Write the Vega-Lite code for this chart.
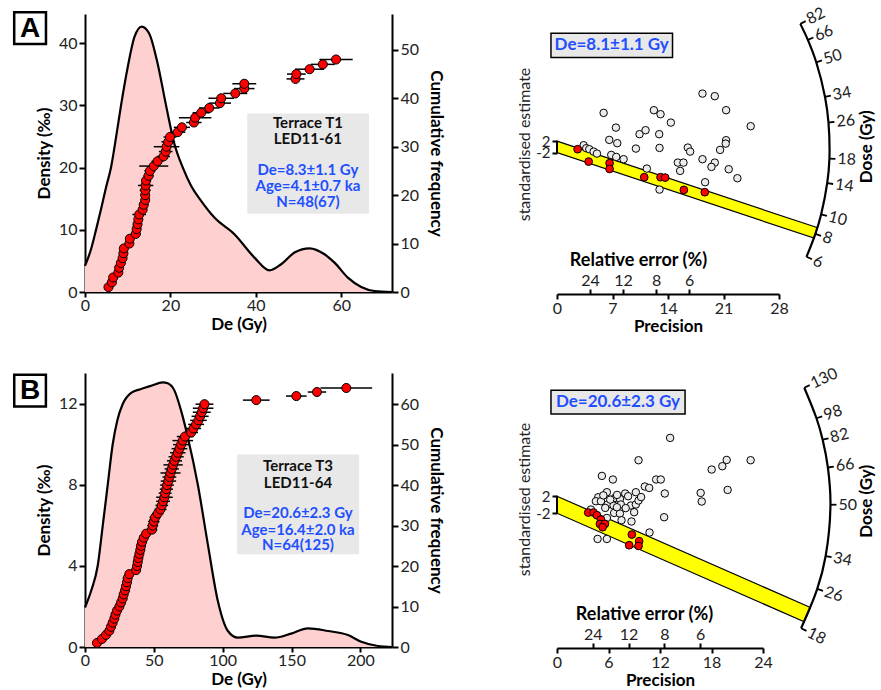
{
"$schema": "https://vega.github.io/schema/vega-lite/v6.json",
"padding": {"left": 12, "top": 4, "right": 4, "bottom": 1},
"config": {
  "font": "Lato",
  "view": {"stroke": null},
  "axis": {"grid": false, "domainColor": "#000", "domainWidth": 2, "tickColor": "#000", "tickWidth": 2, "tickSize": 6, "labelFontSize": 16, "labelColor": "#222", "labelPadding": 2, "labelFlush": false, "titleFontSize": 17, "titleFontWeight": "bold", "titleColor": "#000", "labelFont": "Lato", "titleFont": "Lato"},
  "axisX": {"tickSize": 5, "labelPadding": 0, "titlePadding": 3}
},
"columns": 2,
"align": "each",
"bounds": "flush",
"spacing": {"row": 79, "column": 165},
"concat": [
{
 "width": 307, "height": 278,
 "resolve": {"scale": {"y": "independent"}},
 "layer": [
  {"layer": [
   {"data": {"name": "densA", "values": [{"De":0,"density":4.19},{"De":1.41,"density":6.87},{"De":2.58,"density":9.99},{"De":3.75,"density":13.32},{"De":4.92,"density":16.81},{"De":6.09,"density":20.03},{"De":7.27,"density":24.86},{"De":8.44,"density":30.01},{"De":10.0,"density":36.13},{"De":11.56,"density":40.97},{"De":13.28,"density":42.68},{"De":15.08,"density":41.5},{"De":17.03,"density":36.67},{"De":18.98,"density":30.01},{"De":20.94,"density":23.79},{"De":22.89,"density":20.03},{"De":24.84,"density":17.07},{"De":27.19,"density":14.66},{"De":30.31,"density":11.97},{"De":35.0,"density":9.29},{"De":39.69,"density":5.53},{"De":43.2,"density":3.49},{"De":45.94,"density":4.46},{"De":49.06,"density":6.34},{"De":52.58,"density":7.03},{"De":56.09,"density":6.07},{"De":58.44,"density":4.72},{"De":61.56,"density":2.31},{"De":64.69,"density":0.81},{"De":67.81,"density":0.16},{"De":71.88,"density":0}]},
    "mark": {"type": "area", "fill": "#FFD0D0", "interpolate": "monotone"},
    "encoding": {
     "x": {"field": "De", "type": "quantitative", "title": "De (Gy)", "scale": {"domain": [0, 71.9], "nice": false}, "axis": {"values": [0, 20, 40, 60], "title": "De (Gy)"}},
     "y": {"field": "density", "type": "quantitative", "scale": {"domain": [0, 44.7], "nice": false}, "axis": {"values": [0, 10, 20, 30, 40], "title": "Density (‰)", "titlePadding": 5}}}},
   {"data": {"name": "densA"},
    "mark": {"type": "line", "stroke": "#000", "strokeWidth": 2.2, "interpolate": "monotone"},
    "encoding": {"x": {"field": "De", "type": "quantitative", "title": "De (Gy)"}, "y": {"field": "density", "type": "quantitative"}}},
   {"data": {"values": [{}]}, "mark": {"type": "rect", "fill": "#E8E8E8"},
    "encoding": {"x": {"datum": 38.0, "type": "quantitative"}, "x2": {"datum": 66.5}, "y": {"datum": 28.7, "type": "quantitative"}, "y2": {"datum": 12.6}}},
   {"data": {"values": [{"t": "Terrace T1", "y": 27.2}, {"t": "LED11-61", "y": 24.6}]},
    "mark": {"type": "text", "fontSize": 15, "fontWeight": "bold", "color": "#111"},
    "encoding": {"x": {"datum": 52.2, "type": "quantitative"}, "y": {"field": "y", "type": "quantitative"}, "text": {"field": "t"}}},
   {"data": {"values": [{"t": "De=8.3±1.1 Gy", "y": 19.65}, {"t": "Age=4.1±0.7 ka", "y": 17.07}, {"t": "N=48(67)", "y": 14.49}]},
    "mark": {"type": "text", "fontSize": 15, "fontWeight": "bold", "color": "#1F4FFF"},
    "encoding": {"x": {"datum": 52.2, "type": "quantitative"}, "y": {"field": "y", "type": "quantitative"}, "text": {"field": "t"}}},
   {"data": {"values": [{}]}, "mark": {"type": "rect", "fill": "#FFFFFF", "stroke": "#000", "strokeWidth": 2.5},
    "encoding": {"x": {"datum": -16.58, "type": "quantitative"}, "x2": {"datum": -9.14}, "y": {"datum": 44.98, "type": "quantitative"}, "y2": {"datum": 39.89}}},
   {"data": {"values": [{"t": "A"}]}, "mark": {"type": "text", "font": "Liberation Sans", "fontSize": 28, "fontWeight": "bold", "color": "#000"},
    "encoding": {"x": {"datum": -12.86, "type": "quantitative"}, "y": {"datum": 42.3, "type": "quantitative"}, "text": {"field": "t"}}}
  ]},
  {"layer": [
   {"data": {"name": "cumA", "values": [{"cum":1,"De":5.5,"err":0.5},{"cum":2,"De":6.3,"err":0.5},{"cum":3,"De":6.6,"err":0.5},{"cum":4,"De":7.8,"err":0.6},{"cum":5,"De":8.0,"err":0.6},{"cum":6,"De":8.4,"err":0.6},{"cum":7,"De":8.8,"err":0.6},{"cum":8,"De":9.0,"err":0.7},{"cum":9,"De":9.1,"err":0.7},{"cum":10,"De":10.4,"err":0.8},{"cum":11,"De":10.5,"err":0.8},{"cum":12,"De":11.9,"err":1.2},{"cum":13,"De":12.1,"err":0.9},{"cum":14,"De":12.3,"err":0.9},{"cum":15,"De":12.5,"err":1.0},{"cum":16,"De":12.7,"err":1.6},{"cum":17,"De":13.5,"err":1.0},{"cum":18,"De":13.75,"err":1.1},{"cum":19,"De":14.1,"err":1.0},{"cum":20,"De":14.1,"err":1.1},{"cum":21,"De":14.1,"err":1.3},{"cum":22,"De":14.2,"err":1.8},{"cum":23,"De":14.3,"err":1.2},{"cum":24,"De":14.9,"err":1.2},{"cum":25,"De":15.2,"err":1.3},{"cum":26,"De":16.1,"err":3.4},{"cum":27,"De":17.0,"err":1.4},{"cum":28,"De":18.4,"err":1.5},{"cum":29,"De":18.9,"err":1.6},{"cum":30,"De":19.1,"err":3.0},{"cum":31,"De":19.5,"err":1.6},{"cum":32,"De":19.9,"err":1.5},{"cum":33,"De":21.7,"err":1.8},{"cum":34,"De":22.7,"err":1.9},{"cum":35,"De":25.5,"err":1.8},{"cum":36,"De":25.8,"err":3.8},{"cum":37,"De":27.2,"err":2.0},{"cum":38,"De":29.1,"err":2.4},{"cum":39,"De":31.6,"err":2.6},{"cum":40,"De":31.9,"err":3.0},{"cum":41,"De":35.2,"err":2.8},{"cum":42,"De":37.3,"err":2.4},{"cum":43,"De":37.3,"err":2.8},{"cum":44,"De":49.3,"err":2.1},{"cum":45,"De":49.5,"err":2.2},{"cum":46,"De":52.6,"err":3.4},{"cum":47,"De":55.7,"err":2.8},{"cum":48,"De":58.8,"err":3.9}]},
    "mark": {"type": "errorbar", "color": "#000", "thickness": 1.5},
    "encoding": {"x": {"field": "De", "type": "quantitative", "title": "De (Gy)"}, "xError": {"field": "err"},
     "y": {"field": "cum", "type": "quantitative", "title": "Cumulative frequency", "scale": {"domain": [0, 57.4], "nice": false}, "axis": {"orient": "right", "values": [0, 10, 20, 30, 40, 50], "title": "Cumulative frequency", "titlePadding": 8}}}},
   {"data": {"name": "cumA"},
    "mark": {"type": "point", "filled": true, "fill": "#FF0000", "stroke": "#000", "strokeWidth": 1, "size": 82, "opacity": 1},
    "encoding": {"x": {"field": "De", "type": "quantitative", "title": "De (Gy)"},
     "y": {"field": "cum", "type": "quantitative", "title": "Cumulative frequency", "scale": {"domain": [0, 57.4], "nice": false}, "axis": {"orient": "right", "values": [0, 10, 20, 30, 40, 50], "title": "Cumulative frequency", "titlePadding": 8}}}}
  ]}
 ]
},
{
 "width": 222, "height": 280,
 "resolve": {"axis": {"x": "independent"}},
 "layer": [
  {"layer": [
   {"data": {"values": [{"p": 0, "hi": 2, "lo": -2}, {"p": 32.41, "hi": -27.75, "lo": -31.75}, {"p": 32.83, "hi": -28.14, "lo": -28.14}]},
    "mark": {"type": "area", "fill": "#FFFF00", "stroke": "#000", "strokeWidth": 1.2},
    "encoding": {
     "x": {"field": "p", "type": "quantitative", "title": "Precision", "scale": {"domain": [0, 28], "nice": false}, "axis": {"values": [0, 7, 14, 21, 28], "title": "Precision", "labelPadding": 1, "titlePadding": 2}},
     "y": {"field": "hi", "type": "quantitative", "title": "standardised estimate", "scale": {"domain": [-51.25, 46.3], "nice": false}, "axis": {"values": [-2, 2], "domain": false, "tickSize": 5, "labelFontSize": 15, "labelOverlap": false, "labelExpr": "datum.value > 0 ? '2' : '-2'", "title": "standardised estimate", "titleFontWeight": "normal", "titleFontSize": 16, "titleColor": "#222", "titleY": 130, "titlePadding": 3}},
     "y2": {"field": "lo"}}},
   {"data": {"values": [{"p":5.88,"z":11.85},{"p":7.43,"z":6.72},{"p":6.59,"z":2.44},{"p":7.6,"z":1.29},{"p":3.36,"z":0.59},{"p":3.69,"z":-0.45},{"p":4.07,"z":-0.8},{"p":4.62,"z":-1.64},{"p":5.04,"z":-2.33},{"p":6.84,"z":-2.79},{"p":7.47,"z":-3.48},{"p":8.4,"z":-4.29},{"p":9.95,"z":-0.59},{"p":10.41,"z":4.43},{"p":11.17,"z":5.82},{"p":12.22,"z":12.79},{"p":13.06,"z":11.39},{"p":14.36,"z":8.47},{"p":12.89,"z":4.43},{"p":12.93,"z":-0.35},{"p":11.33,"z":-7.56},{"p":12.93,"z":-14.88},{"p":15.24,"z":-5.47},{"p":15.95,"z":-5.47},{"p":15.53,"z":-8.36},{"p":16.5,"z":-0.24},{"p":16.79,"z":-1.64},{"p":18.35,"z":18.57},{"p":19.9,"z":17.67},{"p":21.33,"z":12.79},{"p":24.43,"z":7.21},{"p":21.33,"z":2.33},{"p":21.28,"z":1.15},{"p":20.57,"z":-1.05},{"p":18.35,"z":-4.29},{"p":19.9,"z":-5.47},{"p":19.48,"z":-6.97},{"p":21.66,"z":-7.77},{"p":22.75,"z":-10.91},{"p":18.68,"z":-12.3}]},
    "mark": {"type": "point", "filled": true, "fill": "#EBEBEB", "stroke": "#000", "strokeWidth": 1, "size": 56, "opacity": 1},
    "encoding": {"x": {"field": "p", "type": "quantitative"}, "y": {"field": "z", "type": "quantitative"}}},
   {"data": {"values": [{"p":2.6,"z":-0.8},{"p":3.99,"z":-5.12},{"p":6.63,"z":-5.68},{"p":6.63,"z":-7.67},{"p":11.0,"z":-10.56},{"p":13.06,"z":-10.56},{"p":13.64,"z":-10.7},{"p":16.0,"z":-14.98},{"p":18.64,"z":-15.78}]},
    "mark": {"type": "point", "filled": true, "fill": "#FF0000", "stroke": "#000", "strokeWidth": 1, "size": 60, "opacity": 1},
    "encoding": {"x": {"field": "p", "type": "quantitative"}, "y": {"field": "z", "type": "quantitative"}}},
   {"data": {"name": "arcA", "values": [{"D":82,"X":30.69,"Z":42.86},{"D":66,"X":31.64,"Z":37.28},{"D":50,"X":32.7,"Z":29.48},{"D":34,"X":33.8,"Z":17.46},{"D":26,"X":34.24,"Z":8.5},{"D":18,"X":34.36,"Z":-4.11},{"D":14,"X":34.08,"Z":-12.65},{"D":10,"X":33.31,"Z":-23.55},{"D":8,"X":32.59,"Z":-30.31},{"D":6,"X":31.47,"Z":-38.29}]},
    "mark": {"type": "line", "stroke": "#000", "strokeWidth": 2.2, "interpolate": "catmull-rom"},
    "encoding": {"x": {"field": "X", "type": "quantitative"}, "y": {"field": "Z", "type": "quantitative"}, "order": {"field": "D", "type": "quantitative", "sort": "descending"}}},
   {"data": {"name": "arcA"},
    "transform": [{"calculate": "atan2(-datum.Z*2.87, datum.X*7.94)*180/PI", "as": "ang"}],
    "mark": {"type": "point", "shape": "M0,0L1,0", "size": 144, "filled": false, "stroke": "#000", "strokeWidth": 1.8, "opacity": 1},
    "encoding": {"x": {"field": "X", "type": "quantitative"}, "y": {"field": "Z", "type": "quantitative"}, "angle": {"field": "ang", "type": "quantitative", "scale": null}}},
   {"data": {"name": "arcA"},
    "transform": [{"calculate": "atan2(-datum.Z*2.87, datum.X*7.94)*180/PI", "as": "ang"}],
    "mark": {"type": "text", "align": "left", "baseline": "middle", "dx": 8, "fontSize": 16, "color": "#222"},
    "encoding": {"x": {"field": "X", "type": "quantitative"}, "y": {"field": "Z", "type": "quantitative"}, "text": {"field": "D", "type": "quantitative"}, "angle": {"field": "ang", "type": "quantitative", "scale": null}}},
   {"data": {"values": [{}]}, "mark": {"type": "rect", "fill": "#E8E8E8", "stroke": "#000", "strokeWidth": 1.5},
    "encoding": {"x": {"datum": -0.76, "type": "quantitative"}, "x2": {"datum": 14.57}, "y": {"datum": 39.62, "type": "quantitative"}, "y2": {"datum": 31.11}}},
   {"data": {"values": [{"t": "De=8.1±1.1 Gy"}]}, "mark": {"type": "text", "fontSize": 17, "fontWeight": "bold", "color": "#1F4FFF"},
    "encoding": {"x": {"datum": 6.9, "type": "quantitative"}, "y": {"datum": 35.4, "type": "quantitative"}, "text": {"field": "t"}}},
   {"data": {"values": [{"t": "Dose (Gy)"}]}, "mark": {"type": "text", "fontSize": 17, "fontWeight": "bold", "color": "#000", "angle": 270},
    "encoding": {"x": {"datum": 39.1, "type": "quantitative"}, "y": {"datum": 0, "type": "quantitative"}, "text": {"field": "t"}}},
   {"data": {"values": [{}]}, "mark": {"type": "rule", "stroke": "#000", "strokeWidth": 2},
    "encoding": {"x": {"datum": 0, "type": "quantitative"}, "y": {"datum": -2, "type": "quantitative"}, "y2": {"datum": 2}}}
  ]},
  {"data": {"values": [{"p": 4.1667}, {"p": 8.3333}, {"p": 12.5}, {"p": 16.6667}]},
   "mark": {"type": "point", "opacity": 0},
   "encoding": {"x": {"field": "p", "type": "quantitative", "axis": {"orient": "top", "offset": -280, "values": [4.1667, 8.3333, 12.5, 16.6667], "labelExpr": "round(100/datum.value)", "domain": false, "tickSize": 5, "labelPadding": 1, "title": "Relative error (%)", "titleFontSize": 18, "titleX": 81, "titlePadding": 3}}}}
 ]
},
{
 "width": 307, "height": 274,
 "resolve": {"scale": {"y": "independent"}},
 "layer": [
  {"layer": [
   {"data": {"name": "densB", "values": [{"De":0,"density":1.95},{"De":4.6,"density":2.8},{"De":9.2,"density":4.0},{"De":12.9,"density":6.0},{"De":16.5,"density":8.0},{"De":20.1,"density":10.0},{"De":23.5,"density":11.2},{"De":27.4,"density":12.0},{"De":33.5,"density":12.55},{"De":40.7,"density":12.74},{"De":48,"density":12.9},{"De":56.5,"density":13.07},{"De":60.1,"density":13.02},{"De":65,"density":12.66},{"De":69.8,"density":11.67},{"De":74.7,"density":10.35},{"De":81.9,"density":8.04},{"De":89.2,"density":5.08},{"De":96.5,"density":2.27},{"De":103.8,"density":0.79},{"De":111,"density":0.46},{"De":124.4,"density":0.56},{"De":137.7,"density":0.46},{"De":149.8,"density":0.66},{"De":161.9,"density":0.92},{"De":176.5,"density":0.79},{"De":191,"density":0.59},{"De":200.7,"density":0.26},{"De":212.8,"density":0.05},{"De":223,"density":0}]},
    "mark": {"type": "area", "fill": "#FFD0D0", "interpolate": "monotone"},
    "encoding": {
     "x": {"field": "De", "type": "quantitative", "title": "De (Gy)", "scale": {"domain": [0, 223], "nice": false}, "axis": {"values": [0, 50, 100, 150, 200], "title": "De (Gy)"}},
     "y": {"field": "density", "type": "quantitative", "scale": {"domain": [0, 13.53], "nice": false}, "axis": {"values": [0, 4, 8, 12], "title": "Density (‰)", "titlePadding": 5}}}},
   {"data": {"name": "densB"},
    "mark": {"type": "line", "stroke": "#000", "strokeWidth": 2.2, "interpolate": "monotone"},
    "encoding": {"x": {"field": "De", "type": "quantitative", "title": "De (Gy)"}, "y": {"field": "density", "type": "quantitative"}}},
   {"data": {"values": [{}]}, "mark": {"type": "rect", "fill": "#E8E8E8"},
    "encoding": {"x": {"datum": 110.5, "type": "quantitative"}, "x2": {"datum": 199.1}, "y": {"datum": 9.5, "type": "quantitative"}, "y2": {"datum": 4.58}}},
   {"data": {"values": [{"t": "Terrace T3", "y": 8.92}, {"t": "LED11-64", "y": 8.1}]},
    "mark": {"type": "text", "fontSize": 15, "fontWeight": "bold", "color": "#111"},
    "encoding": {"x": {"datum": 154.7, "type": "quantitative"}, "y": {"field": "y", "type": "quantitative"}, "text": {"field": "t"}}},
   {"data": {"values": [{"t": "De=20.6±2.3 Gy", "y": 6.61}, {"t": "Age=16.4±2.0 ka", "y": 5.8}, {"t": "N=64(125)", "y": 5.03}]},
    "mark": {"type": "text", "fontSize": 15, "fontWeight": "bold", "color": "#1F4FFF"},
    "encoding": {"x": {"datum": 154.7, "type": "quantitative"}, "y": {"field": "y", "type": "quantitative"}, "text": {"field": "t"}}},
   {"data": {"values": [{}]}, "mark": {"type": "rect", "fill": "#FFFFFF", "stroke": "#000", "strokeWidth": 2.5},
    "encoding": {"x": {"datum": -51.4, "type": "quantitative"}, "x2": {"datum": -28.4}, "y": {"datum": 13.44, "type": "quantitative"}, "y2": {"datum": 11.88}}},
   {"data": {"values": [{"t": "B"}]}, "mark": {"type": "text", "font": "Liberation Sans", "fontSize": 28, "fontWeight": "bold", "color": "#000"},
    "encoding": {"x": {"datum": -39.9, "type": "quantitative"}, "y": {"datum": 12.62, "type": "quantitative"}, "text": {"field": "t"}}}
  ]},
  {"layer": [
   {"data": {"name": "cumB", "values": [{"cum":1,"De":8.7,"err":0.8},{"cum":2,"De":12.4,"err":1.0},{"cum":3,"De":15.3,"err":1.2},{"cum":4,"De":17.7,"err":1.3},{"cum":5,"De":18.9,"err":1.4},{"cum":6,"De":20.1,"err":1.5},{"cum":7,"De":21.3,"err":1.6},{"cum":8,"De":22.1,"err":1.6},{"cum":9,"De":23.3,"err":1.7},{"cum":10,"De":25.0,"err":1.8},{"cum":11,"De":26.2,"err":2.0},{"cum":12,"De":27.4,"err":2.0},{"cum":13,"De":28.1,"err":2.2},{"cum":14,"De":29.1,"err":2.5},{"cum":15,"De":29.8,"err":2.6},{"cum":16,"De":30.5,"err":2.7},{"cum":17,"De":31.0,"err":2.7},{"cum":18,"De":32.2,"err":2.8},{"cum":19,"De":37.1,"err":3.0},{"cum":20,"De":37.8,"err":2.9},{"cum":21,"De":38.3,"err":3.0},{"cum":22,"De":38.8,"err":3.1},{"cum":23,"De":39.5,"err":3.2},{"cum":24,"De":40.2,"err":3.3},{"cum":25,"De":40.7,"err":3.3},{"cum":26,"De":41.5,"err":3.4},{"cum":27,"De":42.7,"err":3.5},{"cum":28,"De":44.4,"err":3.6},{"cum":29,"De":48.7,"err":3.8},{"cum":30,"De":49.2,"err":4.0},{"cum":31,"De":50.0,"err":4.2},{"cum":32,"De":50.9,"err":4.1},{"cum":33,"De":52.9,"err":4.3},{"cum":34,"De":54.8,"err":4.4},{"cum":35,"De":55.8,"err":4.6},{"cum":36,"De":56.7,"err":5.0},{"cum":37,"De":57.7,"err":6.0},{"cum":38,"De":58.2,"err":4.7},{"cum":39,"De":59.1,"err":4.8},{"cum":40,"De":59.6,"err":5.0},{"cum":41,"De":60.6,"err":5.6},{"cum":42,"De":61.3,"err":5.0},{"cum":43,"De":62.1,"err":7.3},{"cum":44,"De":63.0,"err":5.2},{"cum":45,"De":64.0,"err":7.0},{"cum":46,"De":65.0,"err":5.5},{"cum":47,"De":66.2,"err":5.5},{"cum":48,"De":67.4,"err":5.6},{"cum":49,"De":68.6,"err":5.7},{"cum":50,"De":69.8,"err":5.8},{"cum":51,"De":71.0,"err":7.5},{"cum":52,"De":72.7,"err":6.0},{"cum":53,"De":77.1,"err":5.0},{"cum":54,"De":78.8,"err":5.5},{"cum":55,"De":80.7,"err":5.8},{"cum":56,"De":82.4,"err":6.0},{"cum":57,"De":83.6,"err":6.2},{"cum":58,"De":84.8,"err":6.5},{"cum":59,"De":85.8,"err":7.5},{"cum":60,"De":86.8,"err":6.5},{"cum":61,"De":124.4,"err":9.7},{"cum":62,"De":153.5,"err":7.5},{"cum":63,"De":168.5,"err":6.7},{"cum":64,"De":189.8,"err":18.8}]},
    "mark": {"type": "errorbar", "color": "#000", "thickness": 1.5},
    "encoding": {"x": {"field": "De", "type": "quantitative", "title": "De (Gy)"}, "xError": {"field": "err"},
     "y": {"field": "cum", "type": "quantitative", "title": "Cumulative frequency", "scale": {"domain": [0, 67.7], "nice": false}, "axis": {"orient": "right", "values": [0, 10, 20, 30, 40, 50, 60], "title": "Cumulative frequency", "titlePadding": 8}}}},
   {"data": {"name": "cumB"},
    "mark": {"type": "point", "filled": true, "fill": "#FF0000", "stroke": "#000", "strokeWidth": 1, "size": 82, "opacity": 1},
    "encoding": {"x": {"field": "De", "type": "quantitative", "title": "De (Gy)"},
     "y": {"field": "cum", "type": "quantitative", "title": "Cumulative frequency", "scale": {"domain": [0, 67.7], "nice": false}, "axis": {"orient": "right", "values": [0, 10, 20, 30, 40, 50, 60], "title": "Cumulative frequency", "titlePadding": 8}}}}
  ]}
 ]
},
{
 "width": 206, "height": 275,
 "resolve": {"axis": {"x": "independent"}},
 "layer": [
  {"layer": [
   {"data": {"values": [{"p": 0, "hi": 2, "lo": -2}, {"p": 28.8, "hi": -23.54, "lo": -27.54}, {"p": 29.52, "hi": -24.18, "lo": -24.18}]},
    "mark": {"type": "area", "fill": "#FFFF00", "stroke": "#000", "strokeWidth": 1.2},
    "encoding": {
     "x": {"field": "p", "type": "quantitative", "title": "Precision", "scale": {"domain": [0, 24], "nice": false}, "axis": {"values": [0, 6, 12, 18, 24], "title": "Precision", "labelPadding": 1, "titlePadding": 2}},
     "y": {"field": "hi", "type": "quantitative", "title": "standardised estimate", "scale": {"domain": [-33.71, 30.99], "nice": false}, "axis": {"values": [-2, 2], "domain": false, "tickSize": 5, "labelFontSize": 15, "labelOverlap": false, "labelExpr": "datum.value > 0 ? '2' : '-2'", "title": "standardised estimate", "titleFontWeight": "normal", "titleFontSize": 16, "titleColor": "#222", "titleY": 126, "titlePadding": 3}},
     "y2": {"field": "lo"}}},
   {"data": {"values": [{"p":13.18,"z":15.72},{"p":9.5,"z":10.47},{"p":5.23,"z":6.78},{"p":6.51,"z":5.93},{"p":11.55,"z":5.93},{"p":12.09,"z":5.93},{"p":18.02,"z":8.28},{"p":19.26,"z":9.06},{"p":19.77,"z":10.54},{"p":22.56,"z":10.47},{"p":10.23,"z":4.28},{"p":10.74,"z":3.95},{"p":12.56,"z":2.64},{"p":16.74,"z":2.78},{"p":16.86,"z":0.75},{"p":19.88,"z":3.48},{"p":12.48,"z":-2.94},{"p":10.78,"z":-6.54},{"p":5.81,"z":2.94},{"p":4.8,"z":1.76},{"p":9.19,"z":2.94},{"p":7.94,"z":2.64},{"p":6.74,"z":1.6},{"p":7.33,"z":1.36},{"p":8.29,"z":2.0},{"p":4.53,"z":0.82},{"p":5.12,"z":0.82},{"p":5.89,"z":0.05},{"p":6.59,"z":-0.19},{"p":7.44,"z":0.05},{"p":8.6,"z":-0.19},{"p":9.19,"z":0.05},{"p":9.5,"z":0.99},{"p":3.95,"z":-1.13},{"p":5.62,"z":-0.75},{"p":6.66,"z":-1.93},{"p":7.33,"z":-2.07},{"p":8.99,"z":-1.76},{"p":7.52,"z":-3.65},{"p":8.68,"z":-3.95},{"p":5.81,"z":-3.11},{"p":4.73,"z":-8.05},{"p":5.81,"z":-8.05},{"p":6.98,"z":-0.59},{"p":6.2,"z":1.2},{"p":7.0,"z":2.3},{"p":8.0,"z":-0.8},{"p":9.8,"z":1.8},{"p":5.4,"z":2.2}]},
    "mark": {"type": "point", "filled": true, "fill": "#EBEBEB", "stroke": "#000", "strokeWidth": 1, "size": 56, "opacity": 1},
    "encoding": {"x": {"field": "p", "type": "quantitative"}, "y": {"field": "z", "type": "quantitative"}}},
   {"data": {"values": [{"p":3.64,"z":-1.84},{"p":4.26,"z":-1.84},{"p":4.65,"z":-2.47},{"p":5.12,"z":-3.48},{"p":5.0,"z":-4.52},{"p":5.58,"z":-4.52},{"p":5.31,"z":-5.29},{"p":8.72,"z":-7.01},{"p":9.57,"z":-8.59},{"p":8.41,"z":-9.53},{"p":9.5,"z":-9.69}]},
    "mark": {"type": "point", "filled": true, "fill": "#FF0000", "stroke": "#000", "strokeWidth": 1, "size": 60, "opacity": 1},
    "encoding": {"x": {"field": "p", "type": "quantitative"}, "y": {"field": "z", "type": "quantitative"}}},
   {"data": {"name": "arcB", "values": [{"D":130,"X":28.81,"Z":27.53},{"D":98,"X":30.23,"Z":20.34},{"D":82,"X":30.95,"Z":15.3},{"D":66,"X":31.56,"Z":8.76},{"D":50,"X":31.86,"Z":0},{"D":34,"X":31.3,"Z":-12.07},{"D":26,"X":30.32,"Z":-19.82},{"D":18,"X":28.44,"Z":-29.05}]},
    "mark": {"type": "line", "stroke": "#000", "strokeWidth": 2.2, "interpolate": "catmull-rom"},
    "encoding": {"x": {"field": "X", "type": "quantitative"}, "y": {"field": "Z", "type": "quantitative"}, "order": {"field": "D", "type": "quantitative", "sort": "descending"}}},
   {"data": {"name": "arcB"},
    "transform": [{"calculate": "atan2(-datum.Z*4.25, datum.X*8.6)*180/PI", "as": "ang"}],
    "mark": {"type": "point", "shape": "M0,0L1,0", "size": 144, "filled": false, "stroke": "#000", "strokeWidth": 1.8, "opacity": 1},
    "encoding": {"x": {"field": "X", "type": "quantitative"}, "y": {"field": "Z", "type": "quantitative"}, "angle": {"field": "ang", "type": "quantitative", "scale": null}}},
   {"data": {"name": "arcB"},
    "transform": [{"calculate": "atan2(-datum.Z*4.25, datum.X*8.6)*180/PI", "as": "ang"}],
    "mark": {"type": "text", "align": "left", "baseline": "middle", "dx": 8, "fontSize": 16, "color": "#222"},
    "encoding": {"x": {"field": "X", "type": "quantitative"}, "y": {"field": "Z", "type": "quantitative"}, "text": {"field": "D", "type": "quantitative"}, "angle": {"field": "ang", "type": "quantitative", "scale": null}}},
   {"data": {"values": [{}]}, "mark": {"type": "rect", "fill": "#E8E8E8", "stroke": "#000", "strokeWidth": 1.5},
    "encoding": {"x": {"datum": -0.7, "type": "quantitative"}, "x2": {"datum": 14.92}, "y": {"datum": 26.94, "type": "quantitative"}, "y2": {"datum": 21.36}}},
   {"data": {"values": [{"t": "De=20.6±2.3 Gy"}]}, "mark": {"type": "text", "fontSize": 17, "fontWeight": "bold", "color": "#1F4FFF"},
    "encoding": {"x": {"datum": 7.1, "type": "quantitative"}, "y": {"datum": 24.15, "type": "quantitative"}, "text": {"field": "t"}}},
   {"data": {"values": [{"t": "Dose (Gy)"}]}, "mark": {"type": "text", "fontSize": 17, "fontWeight": "bold", "color": "#000", "angle": 270},
    "encoding": {"x": {"datum": 36.13, "type": "quantitative"}, "y": {"datum": 0.8, "type": "quantitative"}, "text": {"field": "t"}}},
   {"data": {"values": [{}]}, "mark": {"type": "rule", "stroke": "#000", "strokeWidth": 2},
    "encoding": {"x": {"datum": 0, "type": "quantitative"}, "y": {"datum": -2, "type": "quantitative"}, "y2": {"datum": 2}}}
  ]},
  {"data": {"values": [{"p": 4.1667}, {"p": 8.3333}, {"p": 12.5}, {"p": 16.6667}]},
   "mark": {"type": "point", "opacity": 0},
   "encoding": {"x": {"field": "p", "type": "quantitative", "axis": {"orient": "top", "offset": -275, "values": [4.1667, 8.3333, 12.5, 16.6667], "labelExpr": "round(100/datum.value)", "domain": false, "tickSize": 5, "labelPadding": 1, "title": "Relative error (%)", "titleFontSize": 18, "titleX": 87, "titlePadding": 3}}}}
 ]
}
]
}
